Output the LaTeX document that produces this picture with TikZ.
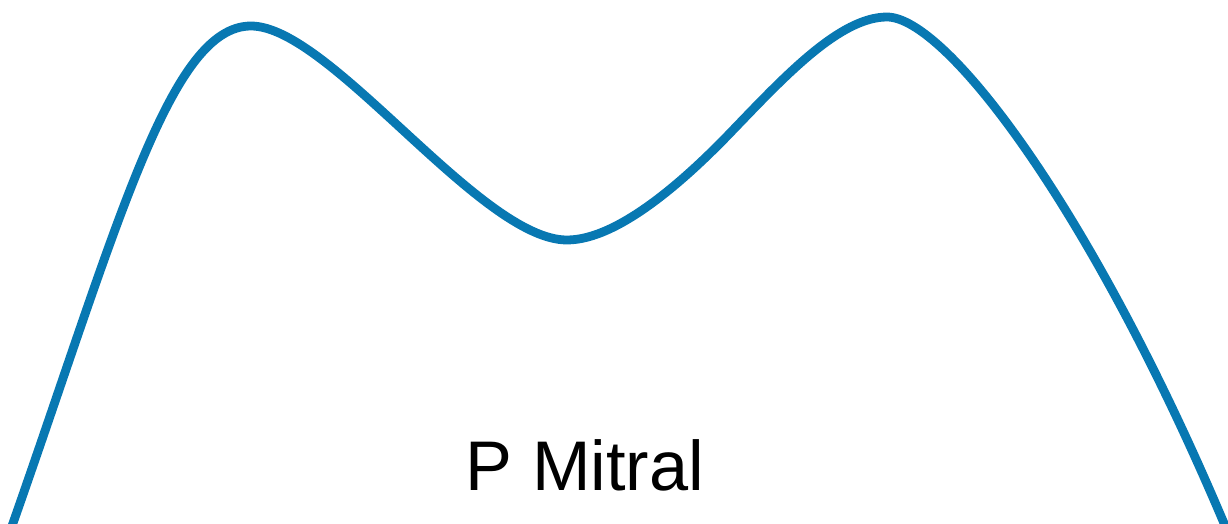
\documentclass[tikz,border=0pt]{standalone}
\usepackage{fontspec}
\setmainfont{Liberation Sans}
\usetikzlibrary{positioning}
\definecolor{mitralBlue}{RGB}{8,120,178}
\tikzset{
  wave/.style={draw=mitralBlue, line width=5pt, line cap=round, line join=round},
  curvelabel/.style={font=\fontsize{40}{48}\selectfont, text=black, inner sep=0pt, anchor=base},
}
\begin{document}
\begin{tikzpicture}[x=0.02cm, y=-0.02cm]
  \useasboundingbox (0,0) rectangle (1228,524);
  \coordinate (start) at (12,526);
  \coordinate (peakE) at (251,26);
  \coordinate (trough) at (567,240);
  \coordinate (rise) at (733,130);
  \coordinate (peakA) at (887,17);
  \coordinate (stop) at (1226,528);
  % pressure curve
  \draw[wave] (start) .. controls (118,225) and (170,26) .. (peakE)
    .. controls (330,26) and (480,240) .. (trough)
    .. controls (620,240) and (690,175) .. (rise)
    .. controls (785,76) and (840,17) .. (peakA)
    .. controls (945,17) and (1090,205) .. (stop);
  \node[curvelabel] (pmitral) at (585,490) {P Mitral};
\end{tikzpicture}
\end{document}
